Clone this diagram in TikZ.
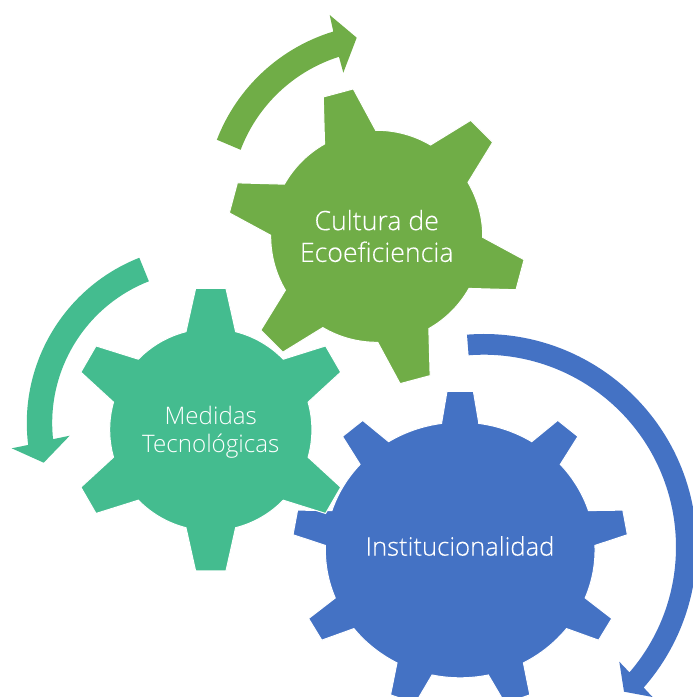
\documentclass[tikz,border=0pt]{standalone}
\usepackage{fontspec}
\setmainfont{Open Sans}
\newfontfamily\lightfont{Open Sans Light}
\newfontfamily\midfont[FakeBold=0.25]{Open Sans Light}
\definecolor{gearblue}{HTML}{4472C4}
\definecolor{geargreen}{HTML}{70AD47}
\definecolor{gearteal}{HTML}{44BC8F}
% #1 teeth, #2 first tooth angle, #3 root radius, #4 root half angle, #5 tip radius, #6 tip half angle
\newcommand\gearoutline[6]{%
  (#2-#4:#3)
  \foreach \k [evaluate=\k as \t using #2+\k*360/#1,
               evaluate=\k as \e using #2+\k*360/#1+#4,
               evaluate=\k as \f using #2+(\k+1)*360/#1-#4] in {0,...,\numexpr#1-1\relax}{
    -- (\t-#6:#5) -- (\t+#6:#5) -- (\e:#3)
    arc[start angle=\e,end angle=\f,radius=#3]
  } -- cycle}
\tikzset{
  gearpart/.style={draw=white,line width=0.75pt,line join=miter},
  arrowpart/.style={draw=none},
  gearlabel/.style={text=white,align=center,inner sep=0pt}
}
\begin{document}
\begin{tikzpicture}[x=0.75pt,y=0.75pt]
\clip (0,0) rectangle (693,697);
% arrows
\fill[gearblue,arrowpart,shift={(483.7,150)}] (94.5:213) arc[start angle=94.5,end angle=-41.3,radius=213]
  -- (168.8,-150) -- (140.3,-144.7) -- (135.6,-114.7) -- (-40.7:192.3)
  arc[start angle=-40.7,end angle=94.5,radius=192.3] -- cycle;
\fill[geargreen,arrowpart,shift={(386,492)}] (158.9:181.3) arc[start angle=158.9,end angle=106.9,radius=181.3]
  -- (-56.3,190) -- (-29.3,167.3) -- (-42.7,132.3) -- (107.6:155.5)
  arc[start angle=107.6,end angle=159.2,radius=155.5] -- cycle;
\fill[gearteal,arrowpart,shift={(204.4,274)}] (111.5:177.6) arc[start angle=111.5,end angle=187.1,radius=177.6]
  -- (-192.7,-25.3) -- (-160.7,-39.7) -- (-134.7,-12.7) -- (186.1:152.2)
  arc[start angle=186.1,end angle=111.4,radius=152.2] -- cycle;
% gears
\fill[gearblue,gearpart,shift={(460.2,147)},xscale=1.055] \gearoutline{9}{90}{127.8}{7.95}{159.2}{4.5};
\fill[gearteal,gearpart,shift={(210.8,267.3)}] \gearoutline{6}{90}{101.1}{14.2}{142.1}{6.12};
\fill[geargreen,gearpart,shift={(376.7,460.7)}] \gearoutline{6}{105}{106}{14.45}{149.2}{5.98};
% labels
\node[gearlabel,font=\midfont\fontsize{20}{23.8}\selectfont] (cultura) at (376.7,461) {Cultura de\\Ecoeficiencia};
\node[gearlabel,font=\lightfont\fontsize{18.1}{21.3}\selectfont] (medidas) at (210.8,265) {Medidas\\Tecnológicas};
\node[gearlabel,font=\midfont\fontsize{19.2}{23.8}\selectfont] (instit) at (460,151) {Institucionalidad};
\end{tikzpicture}
\end{document}
